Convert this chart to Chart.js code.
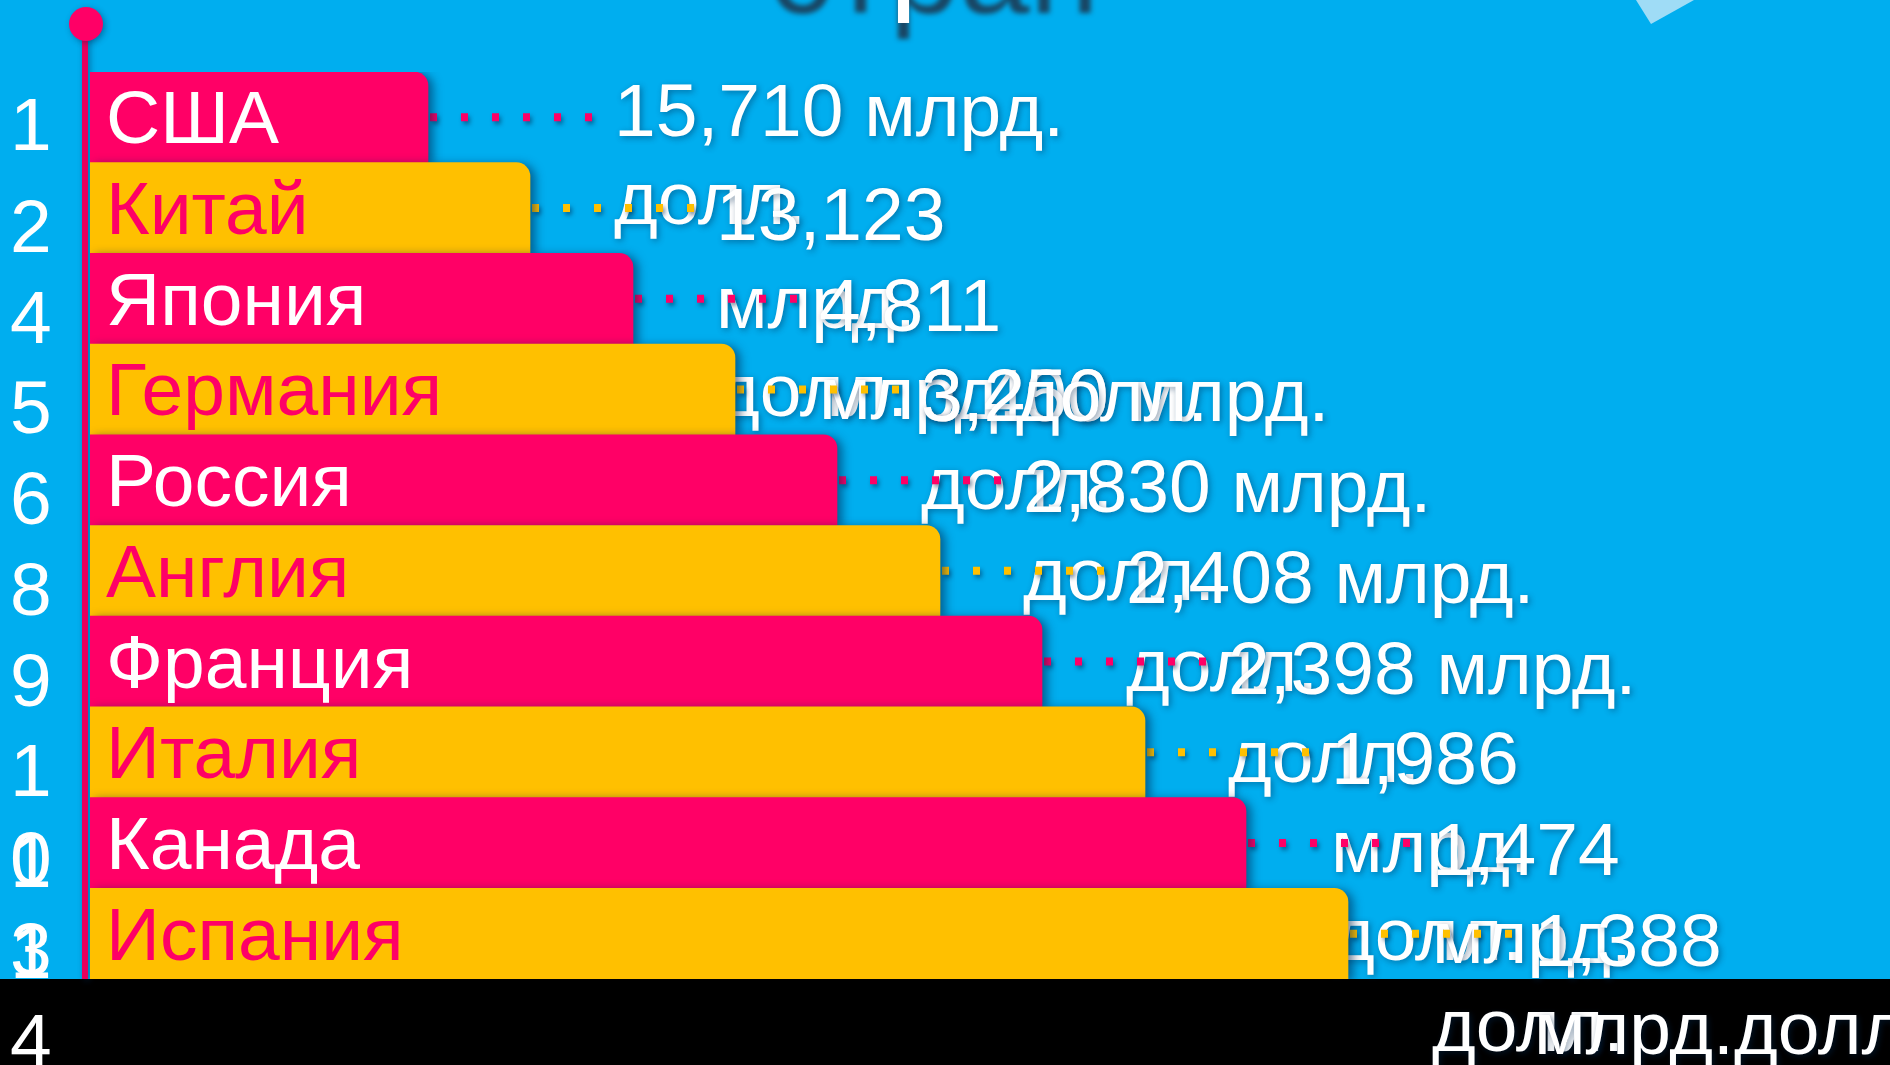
<!DOCTYPE html>
<html>
<head>
<meta charset="utf-8">
<script src="https://cdn.jsdelivr.net/npm/chart.js@4.4.1/dist/chart.umd.min.js"></script>
<style>
  html, body { margin: 0; padding: 0; background: #00AEEF; overflow: hidden; }
  canvas { display: block; }
</style>
</head>
<body>
<canvas id="c" width="1890" height="1065"></canvas>
<script>
// ---- data ----
const countries = ["США", "Китай", "Япония", "Германия", "Россия", "Англия", "Франция", "Италия", "Канада", "Испания"];
const ranks = ["1", "2", "4", "5", "6", "8", "9", "10", "13", "14"];
const gdpValues = [15.710, 13.123, 4.811, 3.400, 2.830, 2.408, 2.398, 1.986, 1.474, 1.388];
const stepLengths = [338, 440, 543, 645, 747, 850, 952, 1055, 1156, 1258];
const wrapStyle = ["A", "B", "C", "A", "A", "A", "A", "B", "B", "D"];
const overlayTexts = [{ row: 3, text: "3,250", dx: 0 }, { row: 3, text: "долл.", dx: 95 }];

// ---- styles ----
const PINK = "#FF0066", YELLOW = "#FFC000", BG = "#00AEEF";
const barColors = countries.map((_, i) => i % 2 === 0 ? PINK : YELLOW);
const nameColors = countries.map((_, i) => i % 2 === 0 ? "#FFFFFF" : PINK);
const FONT = "75px 'Liberation Sans', Arial, sans-serif";

function fmt(v) { return v.toFixed(3).replace(".", ","); }
function labelLines(i) {
  const n = fmt(gdpValues[i]);
  switch (wrapStyle[i]) {
    case "A": return [n + " млрд.", "долл."];
    case "B": return [n, "млрд.", "долл."];
    case "C": return [n, "млрд."];
    default: return [n, "млрд.долл."];
  }
}

const decor = {
  id: "decor",
  beforeDraw(chart) {
    const ctx = chart.ctx;
    ctx.save();
    ctx.fillStyle = BG;
    ctx.fillRect(0, 0, chart.width, chart.height);
    // top-right triangle
    ctx.fillStyle = "#9FDCF6";
    ctx.beginPath();
    ctx.moveTo(1636, 0); ctx.lineTo(1694, 0); ctx.lineTo(1651, 24); ctx.closePath();
    ctx.fill();
    // title (mostly above the top edge)
    ctx.font = "126px 'Liberation Sans', Arial, sans-serif";
    ctx.textAlign = "center";
    ctx.textBaseline = "alphabetic";
    ctx.shadowColor = "rgba(25,70,100,1)";
    ctx.shadowBlur = 5;
    ctx.shadowOffsetY = 16;
    ctx.fillStyle = "#FFFFFF";
    ctx.fillText("стран", 934, -3);
    ctx.restore();
  },
  beforeDatasetsDraw(chart) {
    const ctx = chart.ctx;
    const xs = chart.scales.x, ys = chart.scales.y;
    const area = chart.chartArea;
    ctx.save();
    // black band at bottom
    ctx.fillStyle = "#000000";
    ctx.fillRect(0, area.bottom, chart.width, chart.height - area.bottom);
    // pole
    ctx.shadowColor = "rgba(0,40,80,0.45)";
    ctx.shadowBlur = 6; ctx.shadowOffsetX = 2; ctx.shadowOffsetY = 2;
    ctx.fillStyle = "#E8005C";
    ctx.fillRect(area.left - 8, 24, 6, area.bottom - 24);
    ctx.fillStyle = PINK;
    ctx.beginPath();
    ctx.arc(area.left - 4, 24, 17, 0, Math.PI * 2);
    ctx.fill();
    // leaders + value labels
    ctx.font = FONT;
    ctx.textAlign = "left";
    ctx.textBaseline = "alphabetic";
    const lineGap = 88;
    for (let i = 0; i < countries.length; i++) {
      const yc = ys.getPixelForValue(i);
      const xEnd = xs.getPixelForValue(stepLengths[i]);
      const lx = xEnd + 186;
      ctx.save();
      ctx.shadowColor = "rgba(0,40,80,0.5)";
      ctx.shadowBlur = 4; ctx.shadowOffsetX = 2; ctx.shadowOffsetY = 3;
      ctx.strokeStyle = barColors[i];
      ctx.lineWidth = 8;
      ctx.setLineDash([7, 24]);
      ctx.beginPath();
      ctx.moveTo(xEnd + 2, yc);
      ctx.lineTo(lx - 12, yc);
      ctx.stroke();
      ctx.restore();
      const base = yc + (i === 0 ? 19 : 32);
      ctx.fillStyle = "#FFFFFF";
      labelLines(i).forEach((t, k) => ctx.fillText(t, lx, base + k * lineGap));
    }
    overlayTexts.forEach(o => {
      const yc = ys.getPixelForValue(o.row);
      const lx = xs.getPixelForValue(stepLengths[o.row]) + 186 + o.dx;
      ctx.fillStyle = "#FFFFFF";
      ctx.fillText(o.text, lx, yc + 32);
    });
    ctx.restore();
  },
  beforeDatasetDraw(chart) {
    const ctx = chart.ctx;
    ctx.save();
    ctx.shadowColor = "rgba(0,35,75,0.55)";
    ctx.shadowBlur = 10;
    ctx.shadowOffsetX = 5;
    ctx.shadowOffsetY = 2;
  },
  afterDatasetDraw(chart) {
    chart.ctx.restore();
  },
  afterDatasetsDraw(chart) {
    const ctx = chart.ctx;
    const ys = chart.scales.y;
    const area = chart.chartArea;
    ctx.save();
    ctx.font = FONT;
    ctx.textAlign = "left";
    ctx.textBaseline = "alphabetic";
    for (let i = 0; i < countries.length; i++) {
      const yc = ys.getPixelForValue(i);
      ctx.fillStyle = nameColors[i];
      ctx.fillText(countries[i], area.left + 16, yc + 26);
      ctx.fillStyle = "#FFFFFF";
      const rb = yc + (i === 0 ? 33 : 44);
      ranks[i].split("").forEach((ch, k) => ctx.fillText(ch, 10, rb + k * 88));
    }
    ctx.restore();
  }
};

new Chart(document.getElementById("c"), {
  type: "bar",
  data: {
    labels: countries,
    datasets: [{
      data: stepLengths,
      backgroundColor: barColors,
      borderWidth: 0,
      borderSkipped: false,
      borderRadius: { topLeft: 0, topRight: 14, bottomLeft: 0, bottomRight: 0 },
      categoryPercentage: 1,
      barPercentage: 1
    }]
  },
  options: {
    indexAxis: "y",
    responsive: false,
    animation: false,
    devicePixelRatio: 1,
    layout: { padding: { left: 90, top: 72, right: 0, bottom: 86 } },
    scales: {
      x: { display: false, min: 0, max: 1800 },
      y: { display: false }
    },
    plugins: { legend: { display: false }, tooltip: { enabled: false } }
  },
  plugins: [decor]
});
</script>
</body>
</html>
